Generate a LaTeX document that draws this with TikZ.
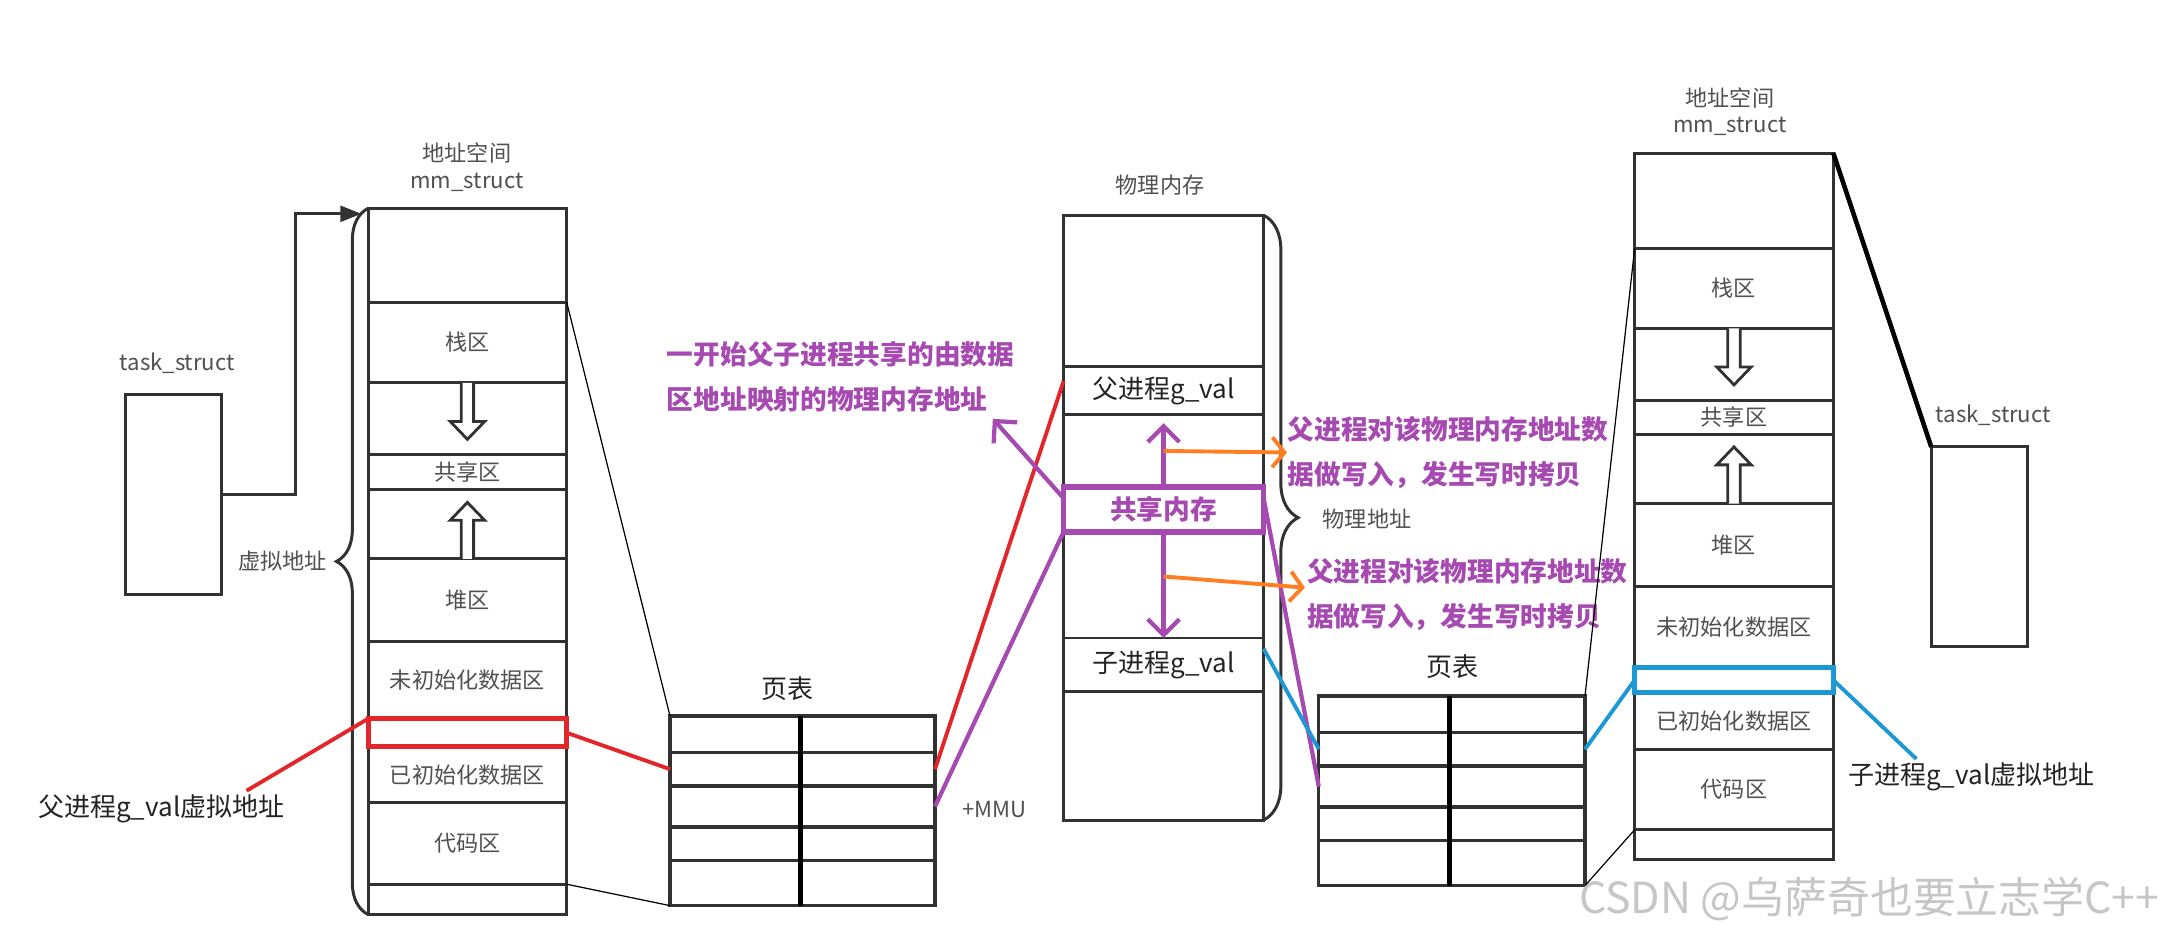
\documentclass[tikz,border=0pt]{standalone}
\usepackage{fontspec}
\setmainfont{Noto Sans CJK SC}
\usepackage{xcolor}
\usepackage{tikz}
\usetikzlibrary{arrows.meta,positioning,calc,decorations.pathreplacing}

\definecolor{boxline}{RGB}{50,50,50}
\definecolor{lblgray}{RGB}{80,80,80}
\definecolor{darklbl}{RGB}{35,35,35}
\definecolor{gvalred}{RGB}{226,38,42}
\definecolor{cowpurple}{RGB}{166,74,178}
\definecolor{writeorange}{RGB}{255,126,36}
\definecolor{childblue}{RGB}{28,152,212}
\definecolor{markgray}{RGB}{198,198,198}

\newcommand{\pxu}{0.013795cm}
\newcommand{\lblfont}{\fontsize{6.3}{7.6}\selectfont}
\newcommand{\valfont}{\fontsize{7.4}{9}\selectfont}
\newcommand{\notefont}{\fontsize{7.6}{12.8}\selectfont\bfseries}

\tikzset{hollowarrow/.pic={\draw[boxline, line width=0.8pt, fill=white] (-4.5,0) -- (-4.5,-28) -- (-12.5,-28) -- (0,-41) -- (12.5,-28) -- (4.5,-28) -- (4.5,0);}}

\begin{document}
\begin{tikzpicture}[x=\pxu, y=-\pxu, >=Latex]
\tikzstyle{seg}=[draw=boxline, line width=0.85pt, inner sep=0pt, outer sep=0pt, text=lblgray, font=\lblfont]
\tikzstyle{lseg}=[seg, minimum width=143.9*\pxu]
\tikzstyle{pseg}=[seg, minimum width=145*\pxu, text=darklbl, font=\valfont]
\tikzstyle{ptcell}=[draw=boxline, line width=0.95pt, inner sep=0pt, outer sep=0pt]
\tikzstyle{taskbox}=[draw=boxline, line width=0.85pt, minimum width=70*\pxu, minimum height=145*\pxu, inner sep=0pt, outer sep=0pt]
\tikzstyle{lbl}=[inner sep=0pt, text=lblgray, font=\lblfont, align=center]
\tikzstyle{vallbl}=[inner sep=0pt, text=darklbl, font=\valfont]
\tikzstyle{note}=[inner sep=0pt, text=cowpurple, font=\notefont, align=left, anchor=west]
\tikzstyle{thinlink}=[draw=black, line width=0.35pt]
\tikzstyle{redlink}=[draw=gvalred, line width=1.1pt]
\tikzstyle{purplelink}=[draw=cowpurple, line width=1.2pt]
\tikzstyle{bluelink}=[draw=childblue, line width=1.1pt]
\tikzstyle{orangelink}=[draw=writeorange, line width=1.1pt, -{Straight Barb[length=3.5pt,width=8.5pt]}]
\tikzstyle{bracket}=[draw=boxline, line width=0.85pt, decorate]
\fill[white] (0,0) rectangle (1568,679);
\useasboundingbox (0,0) rectangle (1568,679);

\node[lbl] (ltasklbl) at (128.5,263) {task\_struct};
\node[taskbox] (ltask) at (125.7,358.7) {};
\node[lbl] (lmmlbl) at (338.5,121) {地址空间\\mm\_struct};
\node[lseg, minimum height=68*\pxu] (ltop) at (338.85,185) {};
\node[lseg, minimum height=58.5*\pxu, below=0pt of ltop] (lstack) {栈区};
\node[lseg, minimum height=52*\pxu, below=0pt of lstack] (lgapa) {};
\node[lseg, minimum height=25.2*\pxu, below=0pt of lgapa] (lshare) {共享区};
\node[lseg, minimum height=50.5*\pxu, below=0pt of lshare] (lgapb) {};
\node[lseg, minimum height=59.5*\pxu, below=0pt of lgapb] (lheap) {堆区};
\node[lseg, minimum height=56.3*\pxu, below=0pt of lheap] (lbss) {未初始化数据区};
\node[lseg, minimum height=20.4*\pxu, below=0pt of lbss] (lval) {};
\node[lseg, minimum height=40.6*\pxu, below=0pt of lval] (ldata) {已初始化数据区};
\node[lseg, minimum height=59*\pxu, below=0pt of ldata] (lcode) {代码区};
\node[lseg, minimum height=22*\pxu, below=0pt of lcode] (lbot) {};
\node[lbl] (vaddrlbl) at (205,407) {虚拟地址};
\node[vallbl] (lgvalabel) at (117,586) {父进程g\_val虚拟地址};

\node[lbl] (plbl) at (841,134) {物理内存};
\node[pseg, minimum height=109.8*\pxu] (ptop) at (843.5,210.9) {};
\node[pseg, minimum height=35*\pxu, below=0pt of ptop] (pparent) {父进程g\_val};
\node[pseg, minimum height=52.2*\pxu, below=0pt of pparent] (pgapa) {};
\node[pseg, minimum height=32.6*\pxu, below=0pt of pgapa, text=cowpurple, font=\notefont] (pshare) {共享内存};
\node[pseg, minimum height=76.9*\pxu, below=0pt of pshare] (pgapb) {};
\node[pseg, minimum height=39.1*\pxu, below=0pt of pgapb] (pchild) {子进程g\_val};
\node[pseg, minimum height=92.9*\pxu, below=0pt of pchild] (pbot) {};
\node[lbl] (paddrlbl) at (991,376) {物理地址};
\node[lbl] (mmulbl) at (721,587) {+MMU};

\node[lbl] (rmmlbl) at (1254,81) {地址空间\\mm\_struct};
\node[lseg, minimum width=144*\pxu, minimum height=69*\pxu] (rtop) at (1257,145.5) {};
\node[lseg, minimum width=144*\pxu, minimum height=58*\pxu, below=0pt of rtop] (rstack) {栈区};
\node[lseg, minimum width=144*\pxu, minimum height=52*\pxu, below=0pt of rstack] (rgapa) {};
\node[lseg, minimum width=144*\pxu, minimum height=25*\pxu, below=0pt of rgapa] (rshare) {共享区};
\node[lseg, minimum width=144*\pxu, minimum height=50*\pxu, below=0pt of rshare] (rgapb) {};
\node[lseg, minimum width=144*\pxu, minimum height=60*\pxu, below=0pt of rgapb] (rheap) {堆区};
\node[lseg, minimum width=144*\pxu, minimum height=59*\pxu, below=0pt of rheap] (rbss) {未初始化数据区};
\node[lseg, minimum width=144*\pxu, minimum height=18*\pxu, below=0pt of rbss] (rval) {};
\node[lseg, minimum width=144*\pxu, minimum height=41*\pxu, below=0pt of rval] (rdata) {已初始化数据区};
\node[lseg, minimum width=144*\pxu, minimum height=58.5*\pxu, below=0pt of rdata] (rcode) {代码区};
\node[lseg, minimum width=144*\pxu, minimum height=21.5*\pxu, below=0pt of rcode] (rbot) {};
\node[lbl] (rtasklbl) at (1445,301) {task\_struct};
\node[taskbox] (rtask) at (1435,396.5) {};
\node[vallbl] (rgvalabel) at (1429,563) {子进程g\_val虚拟地址};

\node[vallbl] (ptllbl) at (571,499.5) {页表};
\node[vallbl] (ptrlbl) at (1053,483.5) {页表};
\foreach \r/\h/\dy in {1/26.5/13.25,2/24.2/38.6,3/29.9/65.65,4/24.4/92.8,5/32.5/121.25}{
  \node[ptcell, minimum width=94.5*\pxu, minimum height=\h*\pxu] (ptl-\r-1) at (532.95,519+\dy) {};
  \node[ptcell, minimum width=97.8*\pxu, minimum height=\h*\pxu] (ptl-\r-2) at (628.9,519+\dy) {};
  \node[ptcell, minimum width=95*\pxu, minimum height=\h*\pxu] (ptr-\r-1) at (1003.5,504.5+\dy) {};
  \node[ptcell, minimum width=98*\pxu, minimum height=\h*\pxu] (ptr-\r-2) at (1100,504.5+\dy) {};
}
\draw[black, line width=1.4pt] (ptl-1-1.north east) -- (ptl-5-1.south east);
\draw[black, line width=1.4pt] (ptr-1-1.north east) -- (ptr-5-1.south east);

\node[note] (sharenote) at (483,273.5) {一开始父子进程共享的由数据\\区地址映射的物理内存地址};
\node[note] (writenotea) at (933,328) {父进程对该物理内存地址数\\据做写入，发生写时拷贝};
\node[note] (writenoteb) at (947,431) {父进程对该物理内存地址数\\据做写入，发生写时拷贝};
\node[anchor=east, inner sep=0pt, text=markgray, font=\fontsize{12.2}{14}\selectfont] (csdnmark) at (1566,652) {CSDN @乌萨奇也要立志学C++};

\pic[rotate=180] at (lstack.south) {hollowarrow};
\pic at (lheap.north) {hollowarrow};
\pic[rotate=180] at (rstack.south) {hollowarrow};
\pic at (rheap.north) {hollowarrow};

\draw[bracket, decoration={brace, amplitude=0.317cm}] (lbot.south west) -- (ltop.north west);
\draw[bracket, decoration={brace, amplitude=0.345cm}] (ptop.north east) -- (pbot.south east);
\coordinate (lbracetop) at (262,155);
\draw[boxline, line width=0.85pt, -{Triangle[length=6pt,width=4.5pt]}] (ltask.east) -| ($(lbracetop)+(-48,0)$) -- (lbracetop);
\draw[black, line width=1.3pt] (rtop.north east) -- (rtask.north west);

\draw[thinlink] (lstack.north east) -- (ptl-1-1.north west);
\draw[thinlink] (lbot.north east) -- (ptl-5-1.south west);
\draw[thinlink] (rstack.north west) -- (ptr-1-2.north east);
\draw[thinlink] (rbot.north west) -- (ptr-5-2.south east);

\draw[redlink] ($(lgvalabel.north east)+(-28,-2)$) -- (lval.north west);
\draw[redlink] (lval.east) -- (ptl-2-1.west);
\draw[redlink] (ptl-2-2.east) -- ($(pparent.north west)!0.3!(pparent.south west)$);
\draw[gvalred, line width=1.5pt] (lval.north west) rectangle (lval.south east);

\draw[purplelink, -{Straight Barb[length=4.5pt,width=9pt]}] ($(pshare.north west)!0.25!(pshare.south west)$) -- ($(sharenote.south east)+(-16,4)$);
\draw[purplelink] (pshare.south west) -- (ptl-3-2.east);
\draw[purplelink] ($(pshare.north east)!0.25!(pshare.south east)$) -- (ptr-3-1.west);
\draw[purplelink, -{Straight Barb[length=4.5pt,width=9pt]}] (pshare.north) -- ($(pparent.south)+(0,6)$);
\draw[purplelink, -{Straight Barb[length=4.5pt,width=9pt]}] (pshare.south) -- (pchild.north);
\draw[cowpurple, line width=1.6pt] (pshare.north west) rectangle (pshare.south east);

\draw[orangelink] ($(pparent.south)!0.5!(pshare.north)$) -- (writenotea.west);
\draw[orangelink] ($(pshare.south)!0.42!(pchild.north)$) -- ($(writenoteb.west)+(-1,-5)$);

\draw[bluelink] ($(pchild.north east)!0.2!(pchild.south east)$) -- (ptr-2-1.west);
\draw[bluelink] (ptr-2-2.east) -- (rval.west);
\draw[bluelink] (rval.east) -- ($(rgvalabel.north west)+(50,-2)$);
\draw[childblue, line width=1.5pt] (rval.north west) rectangle (rval.south east);
\end{tikzpicture}
\end{document}
